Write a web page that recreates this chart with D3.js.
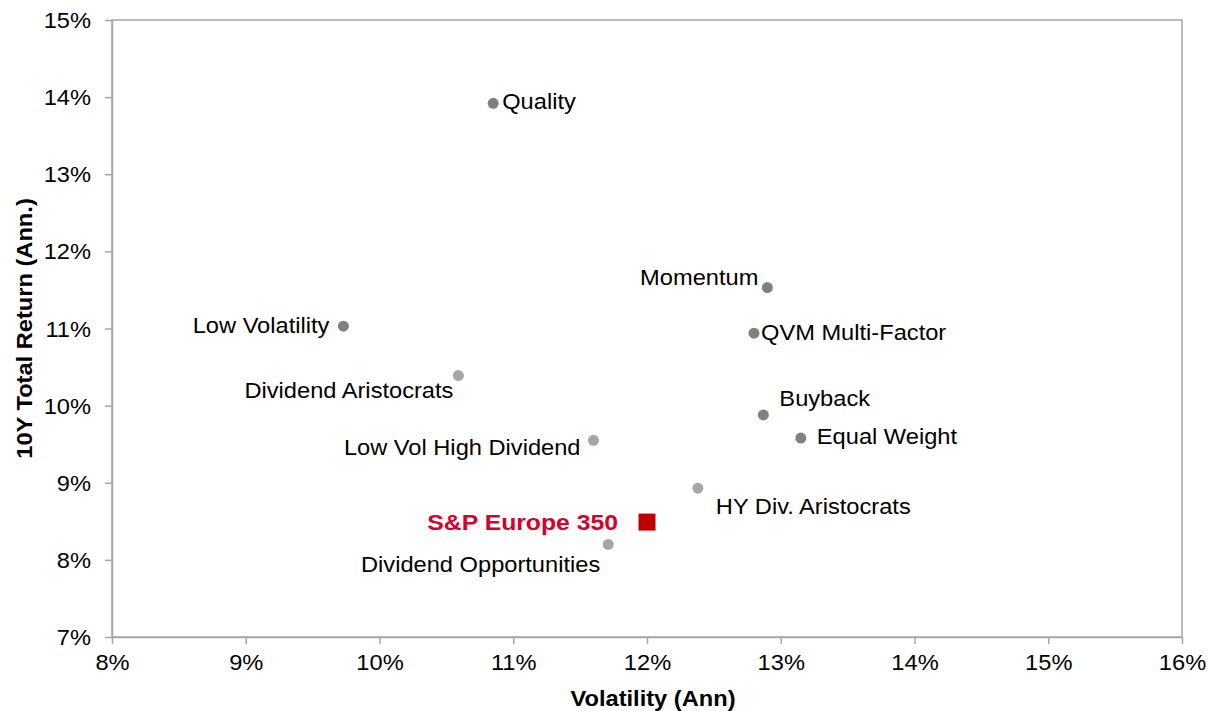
<!DOCTYPE html>
<html><head><meta charset="utf-8">
<script src="https://cdn.jsdelivr.net/npm/d3@7"></script>
<style>body{margin:0;background:#fff}svg text{font-family:"Liberation Sans",Arial,sans-serif}</style>
</head><body><svg id="c" width="1208" height="711"></svg>
<script>
const names = ["Quality","Momentum","QVM Multi-Factor","Low Volatility","Dividend Aristocrats","Buyback","Equal Weight","Low Vol High Dividend","HY Div. Aristocrats","S&P Europe 350","Dividend Opportunities"];
const volatility = [10.85,12.90,12.80,9.73,10.59,12.87,13.15,11.60,12.38,12.00,11.71];
const totalReturn = [13.92,11.53,10.94,11.03,10.39,9.88,9.58,9.55,8.93,8.49,8.20];
const group = ["factor","factor","factor","factor","dividend","factor","factor","dividend","dividend","benchmark","dividend"];
const xTicks = [8,9,10,11,12,13,14,15,16];
const yTicks = [7,8,9,10,11,12,13,14,15];
// label layout (offsets relative to the point)
const labelDx = [9,-9,7,-14,-5,16,16,-13,18,-29,-8];
const labelDy = [-2,-10,-1,-1,15,-16,-2,7,18,0,20];
const labelAnchor = ["start","end","start","end","end","start","start","end","start","end","end"];

const svg = d3.select("#c");
const L=112,R=1182,T=20,B=637;
const x = d3.scaleLinear().domain([8,16]).range([L,R]);
const y = d3.scaleLinear().domain([7,15]).range([B,T]);
const axisCol="#a6a6a6";
const fs=21.5, sx=1.1;

svg.append("rect").attr("x",L).attr("y",T).attr("width",R-L).attr("height",B-T)
  .attr("fill","none").attr("stroke",axisCol).attr("stroke-width",1.5);

const xa = svg.append("g").attr("transform",`translate(0,${B})`)
  .call(d3.axisBottom(x).tickValues(xTicks).tickFormat(d=>d+"%").tickSize(7).tickSizeOuter(0).tickPadding(11));
const ya = svg.append("g").attr("transform",`translate(${L},0)`)
  .call(d3.axisLeft(y).tickValues(yTicks).tickFormat(d=>d+"%").tickSize(7).tickSizeOuter(0).tickPadding(14));
[xa,ya].forEach(a=>{
  a.select(".domain").attr("stroke",axisCol).attr("stroke-width",1.5);
  a.selectAll(".tick line").attr("stroke",axisCol).attr("stroke-width",1.5);
  a.selectAll(".tick text").attr("fill","#000").style("font-size",fs+"px")
   .style("font-family","'Liberation Sans',Arial,sans-serif");
});
xa.selectAll(".tick text").each(function(){
  const t=d3.select(this); const yy=+t.attr("y");
  t.attr("y",0).attr("transform",`translate(0,${yy}) scale(${sx},1)`);
});
ya.selectAll(".tick text").attr("dy","0.35em").each(function(){
  const t=d3.select(this); const xx=+t.attr("x");
  t.attr("x",0).attr("transform",`translate(${xx},0) scale(${sx},1)`);
});

const colorOf = {factor:"#808080",dividend:"#a6a6a6",benchmark:"#c00000"};
const data = names.map((n,i)=>({n,x:volatility[i],y:totalReturn[i],g:group[i],i}));

svg.selectAll("circle.pt").data(data.filter(d=>d.g!=="benchmark")).join("circle")
  .attr("class","pt").attr("cx",d=>x(d.x)).attr("cy",d=>y(d.y)).attr("r",5.5).attr("fill",d=>colorOf[d.g]);
svg.selectAll("rect.pt").data(data.filter(d=>d.g==="benchmark")).join("rect")
  .attr("class","pt").attr("x",d=>x(d.x)-8.5).attr("y",d=>y(d.y)-8.5).attr("width",17).attr("height",17).attr("fill",colorOf.benchmark);

svg.selectAll("text.lbl").data(data).join("text").attr("class","lbl")
  .attr("transform",d=>`translate(${x(d.x)+labelDx[d.i]},${y(d.y)+labelDy[d.i]}) scale(${sx},1)`)
  .attr("dy","0.35em")
  .attr("text-anchor",d=>labelAnchor[d.i])
  .attr("fill",d=>d.g==="benchmark"?"#d5002b":"#000")
  .attr("font-weight",d=>d.g==="benchmark"?"bold":"normal")
  .style("font-size",d=>(d.g==="benchmark"?22.5:fs)+"px").text(d=>d.n);

svg.append("text").attr("transform",`translate(653,698) scale(${sx},1)`).attr("dy","0.35em").attr("text-anchor","middle")
  .attr("font-weight","bold").style("font-size",fs+"px").text("Volatility (Ann)");
svg.append("text").attr("transform",`translate(24,${(T+B)/2}) rotate(-90) scale(${sx},1)`).attr("dy","0.35em").attr("text-anchor","middle")
  .attr("font-weight","bold").style("font-size",fs+"px").text("10Y Total Return (Ann.)");
</script></body></html>
